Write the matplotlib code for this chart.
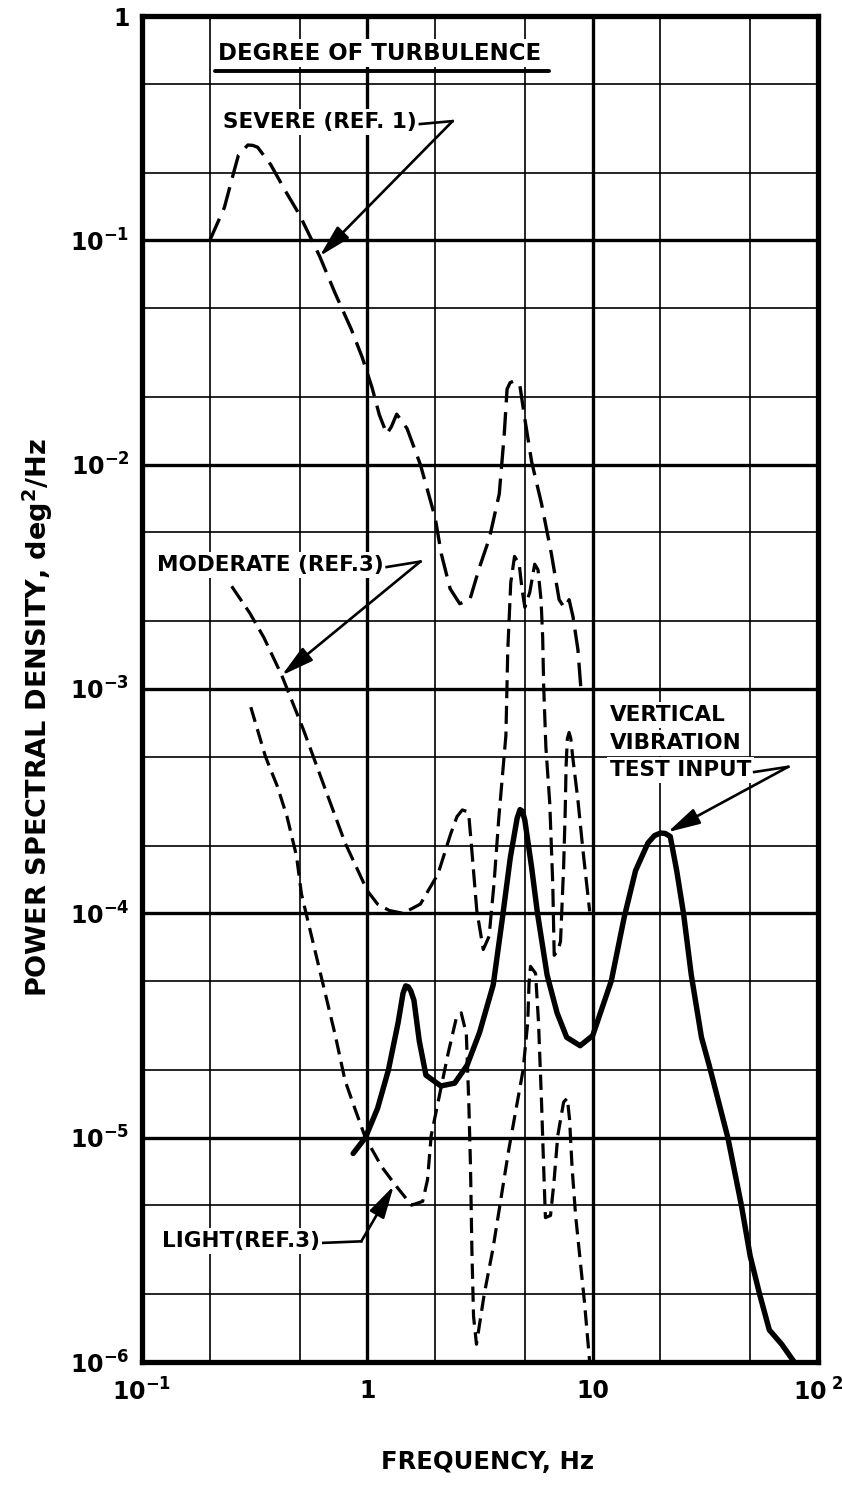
import matplotlib
matplotlib.use("Agg")
import matplotlib.pyplot as plt
from matplotlib.ticker import FixedLocator, LogLocator, NullFormatter

# ---------------------------------------------------------------- data
severe_f = [0.2, 0.232, 0.255, 0.268, 0.295, 0.31, 0.326, 0.373, 0.436, 0.5,
            0.614, 0.72, 0.85, 0.95, 1.05, 1.13, 1.22, 1.28, 1.35, 1.5, 1.72,
            2.0, 2.13, 2.33, 2.57, 2.85, 3.15, 3.48, 3.85, 4.05, 4.17, 4.3,
            4.47, 4.6, 4.75, 5.0, 5.36, 5.93, 6.56, 7.1, 7.5, 7.86, 8.18,
            8.6, 8.87]
severe_p = [0.10, 0.14, 0.20, 0.24, 0.266, 0.265, 0.26, 0.217, 0.164, 0.13,
            0.085, 0.058, 0.040, 0.030, 0.022, 0.0167, 0.0137, 0.0148, 0.0168,
            0.0145, 0.010, 0.0058, 0.0040, 0.0028, 0.0024, 0.0025, 0.0035,
            0.0047, 0.0074, 0.0136, 0.0217, 0.0232, 0.0236, 0.0235, 0.0226,
            0.016, 0.0103, 0.0067, 0.0040, 0.0025, 0.0023, 0.0025, 0.0021,
            0.0015, 0.0010]

moderate_f = [0.25, 0.30, 0.347, 0.417, 0.52, 0.653, 0.797, 1.0, 1.11, 1.25,
              1.44, 1.72, 2.06, 2.34, 2.5, 2.64, 2.75, 2.82, 2.91, 3.06, 3.27,
              3.47, 3.65, 3.83, 4.12, 4.2, 4.33, 4.5, 4.72, 4.86, 5.0, 5.26,
              5.53, 5.72, 5.9, 6.0, 6.06, 6.2, 6.45, 6.65, 6.75, 7.0, 7.2,
              7.43, 7.55, 7.62, 7.72, 7.86, 8.0, 8.15, 8.6, 9.06, 9.7]
moderate_p = [2.87e-3, 2.19e-3, 1.7e-3, 1.15e-3, 6.6e-4, 3.54e-4, 2.06e-4,
              1.26e-4, 1.1e-4, 1.03e-4, 1.0e-4, 1.1e-4, 1.5e-4, 2.25e-4,
              2.7e-4, 2.89e-4, 2.85e-4, 2.75e-4, 1.9e-4, 1.03e-4, 6.9e-5,
              7.9e-5, 1.36e-4, 2.64e-4, 6.2e-4, 1.49e-3, 2.98e-3, 3.9e-3,
              3.6e-3, 2.78e-3, 2.31e-3, 2.7e-3, 3.6e-3, 3.4e-3, 2.5e-3,
              1.7e-3, 1.04e-3, 5.5e-4, 3.1e-4, 1.36e-4, 6.5e-5, 6.8e-5,
              7.5e-5, 1.6e-4, 2.8e-4, 4.5e-4, 6.0e-4, 6.4e-4, 6.0e-4, 5.0e-4,
              3.2e-4, 1.9e-4, 1.02e-4]

light_f = [0.304, 0.353, 0.398, 0.44, 0.485, 0.51, 0.72, 0.796, 0.88, 0.98,
           1.16, 1.34, 1.57, 1.76, 1.85, 1.92, 2.06, 2.28, 2.48, 2.61, 2.75,
           2.82, 2.87, 2.91, 2.96, 3.05, 3.3, 3.61, 4.24, 4.63, 4.91, 5.15,
           5.22, 5.3, 5.58, 5.75, 5.93, 6.06, 6.17, 6.5, 6.73, 7.0, 7.43,
           7.72, 7.9, 8.1, 8.4, 9.2, 9.7]
light_p = [8.3e-4, 5.0e-4, 3.7e-4, 2.7e-4, 1.8e-4, 1.22e-4, 2.87e-5, 1.8e-5,
           1.35e-5, 1.0e-5, 7.4e-6, 6.1e-6, 5.0e-6, 5.2e-6, 6.5e-6, 1.02e-5,
           1.44e-5, 2.36e-5, 3.4e-5, 3.6e-5, 2.9e-5, 1.44e-5, 7.4e-6, 3.2e-6,
           1.6e-6, 1.2e-6, 2.0e-6, 3.2e-6, 8.8e-6, 1.44e-5, 2.0e-5, 3.26e-5,
           4.9e-5, 5.8e-5, 5.4e-5, 3.26e-5, 1.44e-5, 7.4e-6, 4.4e-6, 4.5e-6,
           6.3e-6, 1.02e-5, 1.44e-5, 1.5e-5, 1.2e-5, 7.4e-6, 4.5e-6, 1.84e-6,
           1.0e-6]

vib_f = [0.865, 0.98, 1.11, 1.24, 1.37, 1.44, 1.48, 1.52, 1.56, 1.61, 1.7,
         1.82, 2.12, 2.44, 2.77, 3.15, 3.62, 3.98, 4.31, 4.62, 4.76, 4.88,
         5.0, 5.36, 5.69, 6.28, 6.95, 7.67, 8.8, 10.0, 12.1, 13.8, 15.5,
         17.6, 18.8, 20.0, 21.0, 22.1, 23.6, 25.3, 27.4, 30.4, 32.9, 39.8,
         45.7, 50.0, 55.1, 60.8, 69.0, 78.4]
vib_p = [8.5e-6, 1.0e-5, 1.35e-5, 2.0e-5, 3.26e-5, 4.4e-5, 4.75e-5, 4.7e-5,
         4.5e-5, 4.1e-5, 2.7e-5, 1.9e-5, 1.7e-5, 1.75e-5, 2.1e-5, 2.95e-5,
         4.8e-5, 9.6e-5, 1.77e-4, 2.65e-4, 2.9e-4, 2.85e-4, 2.6e-4, 1.6e-4,
         1.0e-4, 5.3e-5, 3.6e-5, 2.8e-5, 2.57e-5, 2.85e-5, 5.0e-5, 9.6e-5,
         1.55e-4, 2.06e-4, 2.22e-4, 2.28e-4, 2.27e-4, 2.2e-4, 1.55e-4,
         1.0e-4, 5.3e-5, 2.8e-5, 2.1e-5, 1.0e-5, 5.0e-6, 2.97e-6, 2.0e-6,
         1.39e-6, 1.2e-6, 1.0e-6]

x_ticks = [0.1, 1, 10, 100]
x_tick_labels = ["$10^{-1}$", "1", "10", "$10^{\\ 2}$"]
y_ticks = [1e-6, 1e-5, 1e-4, 1e-3, 1e-2, 1e-1, 1]
y_tick_labels = ["$10^{-6}$", "$10^{-5}$", "$10^{-4}$", "$10^{-3}$",
                 "$10^{-2}$", "$10^{-1}$", "1"]

# ---------------------------------------------------------------- style
plt.rcParams["font.family"] = ["DejaVu Sans"]
plt.rcParams["font.weight"] = "bold"
plt.rcParams["mathtext.default"] = "bf"
plt.rcParams["lines.scale_dashes"] = False

W, H = 842, 1504
fig = plt.figure(figsize=(W / 100, H / 100), dpi=100)
ax = fig.add_axes([142 / W, 1 - 1362 / H, 676 / W, 1346 / H])
ax.set_xscale("log")
ax.set_yscale("log")
ax.set_xlim(0.1, 100)
ax.set_ylim(1e-6, 1)

ax.xaxis.set_major_locator(FixedLocator(x_ticks))
ax.set_xticklabels(x_tick_labels)
ax.yaxis.set_major_locator(FixedLocator(y_ticks))
ax.set_yticklabels(y_tick_labels)
for axis in (ax.xaxis, ax.yaxis):
    axis.set_minor_locator(LogLocator(base=10, subs=(2, 5), numticks=20))
    axis.set_minor_formatter(NullFormatter())

ax.set_axisbelow(True)
ax.grid(which="major", color="black", lw=2.4)
ax.grid(which="minor", color="black", lw=1.2)
ax.tick_params(which="both", length=0)
ax.tick_params(axis="x", pad=12, labelsize=17)
ax.tick_params(axis="y", pad=9, labelsize=17)
for sp in ax.spines.values():
    sp.set_linewidth(3.8)

# ---------------------------------------------------------------- curves
ax.plot(severe_f, severe_p, color="black", lw=2.4, ls=(0, (17, 7)),
        dash_capstyle="butt", zorder=3)
ax.plot(moderate_f, moderate_p, color="black", lw=2.3, ls=(0, (13, 5.5)),
        dash_capstyle="butt", zorder=3)
ax.plot(light_f, light_p, color="black", lw=2.3, ls=(0, (11, 5.5)),
        dash_capstyle="butt", zorder=3)
ax.plot(vib_f, vib_p, color="black", lw=3.9, solid_joinstyle="round",
        solid_capstyle="round", zorder=3)

# ---------------------------------------------------------------- labels
box = dict(facecolor="white", edgecolor="none", pad=2)
tkw = dict(transform=ax.transAxes, fontsize=15.5, va="center", ha="left",
           bbox=box, zorder=1.5)

title = ax.text(0.112, 0.9725, "DEGREE OF TURBULENCE",
                **{**tkw, "fontsize": 16.5})
t_sev = ax.text(0.120, 0.9212, "SEVERE (REF. 1)", **tkw)
t_mod = ax.text(0.022, 0.5921, "MODERATE (REF.3)", **tkw)
t_lig = ax.text(0.030, 0.0900, "LIGHT(REF.3)", **tkw)
ax.text(0.692, 0.4807, "VERTICAL", **tkw)
ax.text(0.692, 0.4599, "VIBRATION", **tkw)
t_vib = ax.text(0.692, 0.4398, "TEST INPUT", **tkw)

fig.text(487 / W, 1 - 1462 / H, "FREQUENCY, Hz", fontsize=17.5,
         ha="center", va="center")
fig.text(38 / W, 1 - 718 / H, "POWER SPECTRAL DENSITY, deg$^{2}$/Hz",
         fontsize=19.5, rotation=90, ha="center", va="center")

fig.canvas.draw()
renderer = fig.canvas.get_renderer()
to_data = ax.transData.inverted()

# underline under the heading
bb = title.get_window_extent(renderer)
p0 = to_data.transform((bb.x0 - 3, bb.y0 - 6))
p1 = to_data.transform((bb.x1 + 8, bb.y0 - 6))
ax.plot([p0[0], p1[0]], [p0[1], p1[1]], color="black", lw=2.8,
        solid_capstyle="round", zorder=4, clip_on=False)


def leader(label, corner, tip):
    b = label.get_window_extent(renderer)
    start = to_data.transform((b.x1 + 3, (b.y0 + b.y1) / 2 - 2))
    ax.plot([start[0], corner[0]], [start[1], corner[1]], color="black",
            lw=1.9, zorder=4)
    ax.annotate("", xy=tip, xytext=corner, zorder=4,
                arrowprops=dict(arrowstyle="-|>,head_length=1.1,head_width=0.28",
                                color="black", lw=1.9, shrinkA=0, shrinkB=0,
                                mutation_scale=18))


leader(t_sev, (2.39, 0.34), (0.614, 0.085))
leader(t_mod, (1.72, 3.7e-3), (0.417, 1.15e-3))
leader(t_lig, (0.94, 3.45e-6), (1.31, 6.1e-6))
leader(t_vib, (73.8, 4.5e-4), (21.5, 2.3e-4))

fig.savefig("out.png", dpi=100, facecolor="white")
